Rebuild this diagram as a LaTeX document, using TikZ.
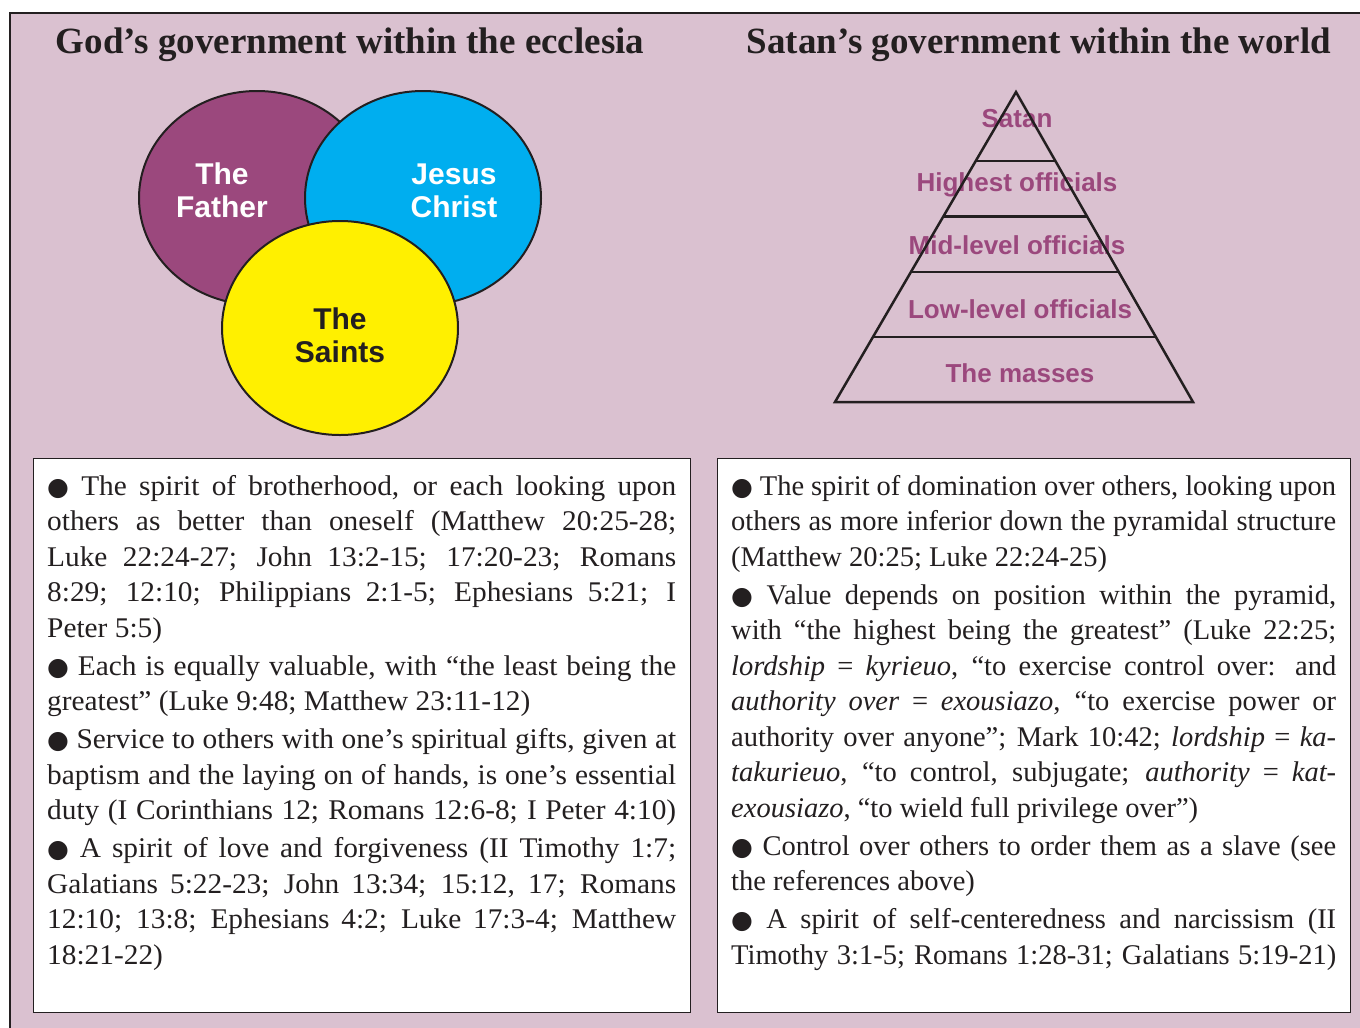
\documentclass[tikz,border=0pt]{standalone}
\usepackage{fontspec}
\setmainfont{Liberation Serif}
\setsansfont{Liberation Sans}
\newfontfamily\widefont[FakeStretch=1.03]{Liberation Serif}
\newfontfamily\dotfont{DejaVu Sans}
\usetikzlibrary{positioning}
\usetikzlibrary{calc}
\usetikzlibrary{shapes.geometric}

\definecolor{rose}{RGB}{218,193,208}
\definecolor{plum}{RGB}{155,72,125}
\definecolor{sky}{RGB}{0,174,239}
\definecolor{lemon}{RGB}{255,240,0}
\definecolor{ink}{RGB}{35,31,32}

\newcommand{\blt}{{\dotfont\fontsize{25}{25}\selectfont●}\ }
\newcommand{\notesetup}{\tolerance=10000 \hyphenpenalty=10000 \parskip=2.5pt\relax}

\begin{document}
\begin{tikzpicture}[x=1pt, y=-1pt,
                    venn/.style={draw=ink, ellipse, line width=2pt, minimum width=236pt, minimum height=214pt},
                    vennlabel/.style={font=\fontsize{30}{33}\selectfont\sffamily\bfseries, align=center, inner sep=0pt},
                    tier/.style={font=\fontsize{26}{26}\selectfont\sffamily\bfseries, text=plum, inner sep=0pt, anchor=base},
                    heading/.style={font=\fontsize{37}{37}\selectfont\bfseries, text=ink, inner sep=0pt, anchor=base},
                    notebox/.style={draw=ink, fill=white, line width=1.2pt, anchor=north west, inner sep=0pt, minimum height=554pt},
                    notes/.style={font=\fontsize{28.5}{35.5}\selectfont, text=ink, align=justify, inner sep=0pt}]
    \clip (0,0) rectangle (1360,1028);
    \fill[white] (0,0) rectangle (1360,1028);
    \draw[ink, fill=rose, line width=2pt] (10,13) rectangle (1380,1050);

    \node[heading] (godtitle) at (350,53) {God’s government within the ecclesia};
    \node[heading] (satantitle) at (1039,53) {Satan’s government within the world};

    % the three circles
    \node[venn, fill=plum] (father) at (257,198) {};
    \node[venn, fill=sky] (jesus) at (423,198) {};
    \node[venn, fill=lemon] (saints) at (340,328) {};
    \node[vennlabel, text=white] (fatherlabel) at (222,190.5) {The\\Father};
    \node[vennlabel, text=white] (jesuslabel) at (454,190.5) {Jesus\\Christ};
    \node[vennlabel, text=ink] (saintslabel) at (340,335) {The\\Saints};

    % pyramid
    \node[tier] (satan) at (1017,127) {Satan};
    \node[tier] (highest) at (1017,191) {Highest officials};
    \node[tier] (midlevel) at (1017,254) {Mid-level officials};
    \node[tier] (lowlevel) at (1020,318) {Low-level officials};
    \node[tier] (masses) at (1020,382) {The masses};
    \coordinate (apex) at (1016,92);
    \coordinate (baseL) at (835,402);
    \coordinate (baseR) at (1193,402);
    \draw[ink, line width=2.5pt] (apex) -- (baseL) -- (baseR) -- cycle;
    \foreach \t in {0.223,0.402,0.581,0.790}
        \draw[ink, line width=2.5pt] ($(apex)!\t!(baseL)$) -- ($(apex)!\t!(baseR)$);

    % text boxes
    \node[notebox, minimum width=657pt] (godbox) at (33,458) {};
    \node[notebox, minimum width=633pt] (satanbox) at (717,458) {};

    \node[notes, text width=629pt, below right=17pt and 14pt of godbox.north west] (godnotes) {\notesetup\widefont
        \blt The spirit of brotherhood, or each looking upon\linebreak
        others as better than oneself (Matthew 20:25-28;\linebreak
        Luke 22:24-27; John 13:2-15; 17:20-23; Romans\linebreak
        8:29; 12:10; Philippians 2:1-5; Ephesians 5:21; I\linebreak
        Peter 5:5)\par
        \blt Each is equally valuable, with “the least being the\linebreak
        greatest” (Luke 9:48; Matthew 23:11-12)\par
        \blt Service to others with one’s spiritual gifts, given at\linebreak
        baptism and the laying on of hands, is one’s essential\linebreak
        duty (I Corinthians 12; Romans 12:6-8; I Peter 4:10){\parfillskip=0pt\par}
        \blt A spirit of love and forgiveness (II Timothy 1:7;\linebreak
        Galatians 5:22-23; John 13:34; 15:12, 17; Romans\linebreak
        12:10; 13:8; Ephesians 4:2; Luke 17:3-4; Matthew\linebreak
        18:21-22)};

    \node[notes, text width=605pt, below right=17pt and 14pt of satanbox.north west] (satannotes) {\notesetup
        \blt The spirit of domination over others, looking upon\linebreak
        others as more inferior down the pyramidal structure\linebreak
        (Matthew 20:25; Luke 22:24-25)\par
        \blt Value depends on position within the pyramid,\linebreak
        with “the highest being the greatest” (Luke 22:25;\linebreak
        \emph{lordship} = \emph{kyrieuo}, “to exercise control over: and\linebreak
        \emph{authority over} = \emph{exousiazo}, “to exercise power or\linebreak
        authority over anyone”; Mark 10:42; \emph{lordship} = \emph{ka-}\linebreak
        \emph{takurieuo}, “to control, subjugate; \emph{authority} = \emph{kat-}\linebreak
        \emph{exousiazo}, “to wield full privilege over”)\par
        \blt Control over others to order them as a slave (see\linebreak
        the references above)\par
        \blt A spirit of self-centeredness and narcissism (II\linebreak
        Timothy 3:1-5; Romans 1:28-31; Galatians 5:19-21){\parfillskip=0pt\par}};
\end{tikzpicture}
\end{document}
